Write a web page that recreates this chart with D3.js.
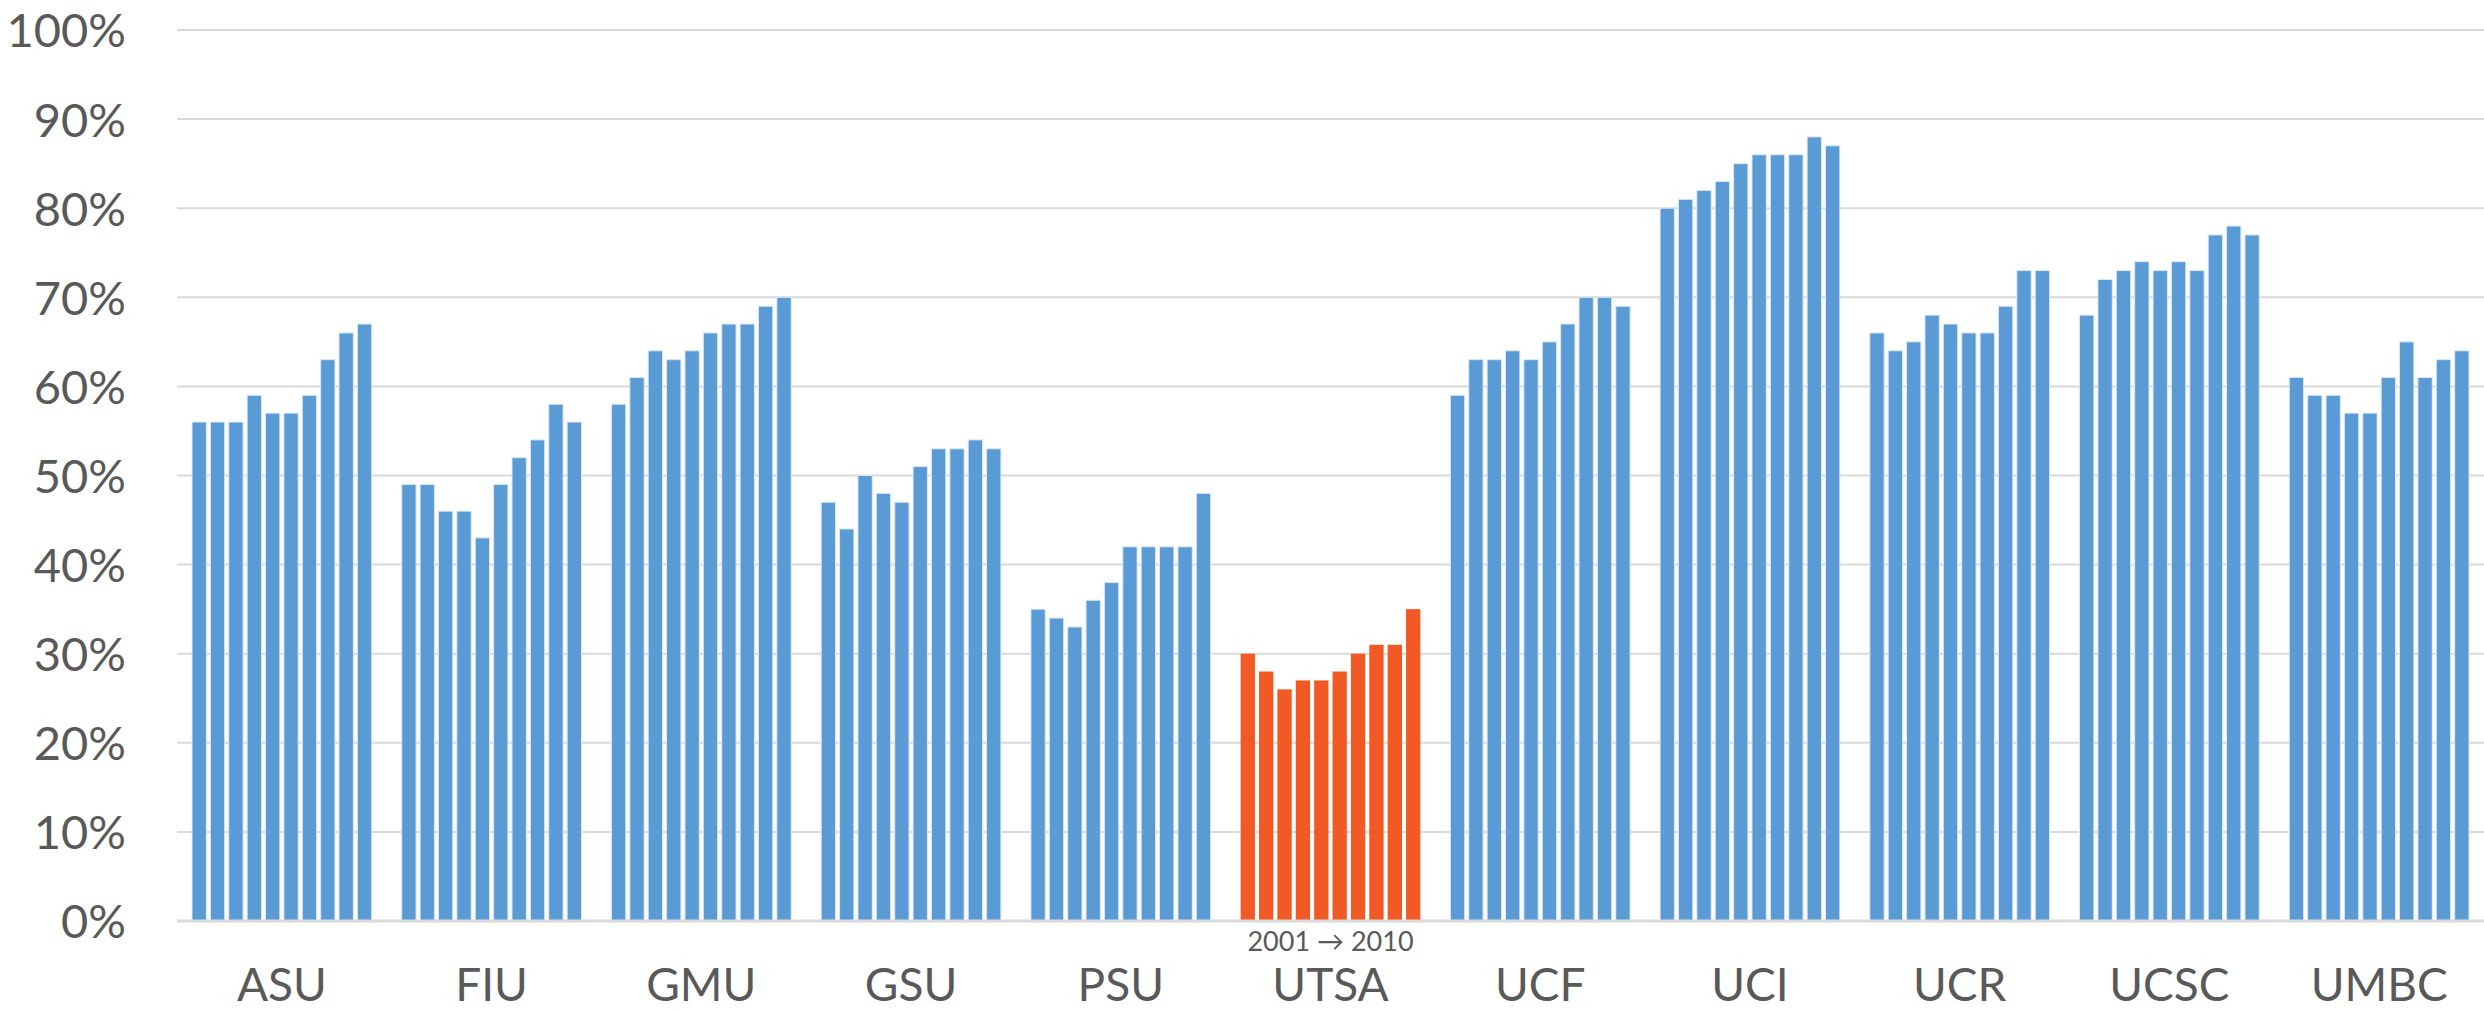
<!DOCTYPE html>
<html>
<head>
<meta charset="utf-8">
<script src="https://cdn.jsdelivr.net/npm/d3@7"></script>
<style>
  body { margin: 0; background: #fff; }
  svg { display: block; }
  svg text { font-family: Lato, "Open Sans", sans-serif; }
</style>
</head>
<body>
<main></main>
<script>
const width = 2484;
const height = 1011;
const margin = { top: 30, right: 0, bottom: 90, left: 177 };

// graduation rates, 2001 -> 2010, per school
const schools = ["ASU", "FIU", "GMU", "GSU", "PSU", "UTSA", "UCF", "UCI", "UCR", "UCSC", "UMBC"];
const years = [2001, 2002, 2003, 2004, 2005, 2006, 2007, 2008, 2009, 2010];
const asu = [56, 56, 56, 59, 57, 57, 59, 63, 66, 67];
const fiu = [49, 49, 46, 46, 43, 49, 52, 54, 58, 56];
const gmu = [58, 61, 64, 63, 64, 66, 67, 67, 69, 70];
const gsu = [47, 44, 50, 48, 47, 51, 53, 53, 54, 53];
const psu = [35, 34, 33, 36, 38, 42, 42, 42, 42, 48];
const utsa = [30, 28, 26, 27, 27, 28, 30, 31, 31, 35];
const ucf = [59, 63, 63, 64, 63, 65, 67, 70, 70, 69];
const uci = [80, 81, 82, 83, 85, 86, 86, 86, 88, 87];
const ucr = [66, 64, 65, 68, 67, 66, 66, 69, 73, 73];
const ucsc = [68, 72, 73, 74, 73, 74, 73, 77, 78, 77];
const umbc = [61, 59, 59, 57, 57, 61, 65, 61, 63, 64];
const yTicks = [0, 10, 20, 30, 40, 50, 60, 70, 80, 90, 100];
const highlight = "UTSA";

const series = [asu, fiu, gmu, gsu, psu, utsa, ucf, uci, ucr, ucsc, umbc];
const rows = [];
schools.forEach((s, i) => {
  years.forEach((yr, j) => rows.push({ school: s, year: yr, value: series[i][j] }));
});

const svg = d3.select("main").append("svg").attr("width", width).attr("height", height);

const xScale = d3
  .scaleBand()
  .domain(schools)
  .range([margin.left, width - margin.right])
  .paddingInner(0.143)
  .paddingOuter(0.0715);

const xInner = d3
  .scaleBand()
  .domain(years)
  .range([0, xScale.bandwidth()])
  .paddingInner(0.22);

const yScale = d3
  .scaleLinear()
  .domain([0, 100])
  .range([height - margin.bottom, margin.top]);

// gridlines
svg
  .append("g")
  .attr("class", "grid")
  .selectAll("line")
  .data(yTicks)
  .enter()
  .append("line")
  .attr("x1", margin.left)
  .attr("x2", width - margin.right)
  .attr("y1", (d) => yScale(d))
  .attr("y2", (d) => yScale(d))
  .attr("stroke", "#d9d9d9")
  .attr("stroke-width", 2);

// y axis labels
const yAxis = d3
  .axisLeft(yScale)
  .tickValues(yTicks)
  .tickFormat((d) => d + "%")
  .tickSize(0)
  .tickPadding(51);

svg
  .append("g")
  .attr("id", "y-axis")
  .attr("transform", `translate(${margin.left}, 0)`)
  .call(yAxis)
  .call((g) => g.select(".domain").remove())
  .selectAll("text")
  .attr("dy", "0.36em")
  .style("font-family", "Lato, 'Open Sans', sans-serif")
  .style("font-size", "47px")
  .style("fill", "#595959");

// bars
svg
  .append("g")
  .selectAll("rect")
  .data(rows)
  .enter()
  .append("rect")
  .attr("x", (d) => xScale(d.school) + xInner(d.year))
  .attr("width", xInner.bandwidth())
  .attr("y", (d) => yScale(d.value))
  .attr("height", (d) => yScale(0) - yScale(d.value))
  .attr("fill", (d) => (d.school === highlight ? "#f15a24" : "#5b9bd5"))
  .attr("stroke", (d) => (d.school === highlight ? "none" : "#dce8f5"))
  .attr("stroke-width", 1);

// baseline
svg
  .append("line")
  .attr("x1", margin.left)
  .attr("x2", width - margin.right)
  .attr("y1", yScale(0))
  .attr("y2", yScale(0))
  .attr("stroke", "#d9d9d9")
  .attr("stroke-width", 3);

// x axis labels
const xAxis = d3.axisBottom(xScale).tickSize(0).tickPadding(0);

svg
  .append("g")
  .attr("id", "x-axis")
  .attr("transform", `translate(0, ${yScale(0)})`)
  .call(xAxis)
  .call((g) => g.select(".domain").remove())
  .selectAll("text")
  .attr("y", 80)
  .attr("dy", null)
  .style("font-family", "Lato, 'Open Sans', sans-serif")
  .style("font-size", "46px")
  .style("fill", "#595959");

// year range note under the highlighted group
svg
  .append("text")
  .attr("x", xScale(highlight) + xScale.bandwidth() / 2)
  .attr("y", yScale(0) + 30)
  .attr("text-anchor", "middle")
  .style("font-size", "27px")
  .style("fill", "#595959")
  .text(years[0] + " \u2192 " + years[years.length - 1]);
</script>
</body>
</html>
